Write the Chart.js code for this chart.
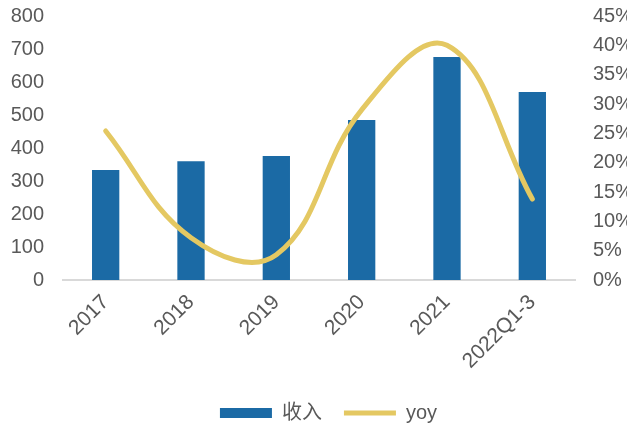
<!DOCTYPE html>
<html>
<head>
<meta charset="utf-8">
<script src="https://cdn.jsdelivr.net/npm/chart.js@4"></script>
<style>
  html, body { margin: 0; padding: 0; background: #fff; overflow: hidden; }
</style>
</head>
<body>
<canvas id="chart" width="627" height="427"></canvas>
<script>
const categories = ['2017', '2018', '2019', '2020', '2021', '2022Q1-3'];
const revenue = [333, 360, 376, 485, 676, 570];
const yoy = [25.4, 7.2, 4.3, 29.0, 40.0, 13.8];
const leftTicks = [0, 100, 200, 300, 400, 500, 600, 700, 800];
const rightTicks = [0, 5, 10, 15, 20, 25, 30, 35, 40, 45];

const tickColor = '#595959';
const tickFont = { family: 'Liberation Sans, Arial, sans-serif', size: 20 };

// move the legend row a little right and down from where the layout puts it
const legendShift = {
    id: 'legendShift',
    afterLayout(chart) {
        const lg = chart.legend;
        lg.left += 15;
        lg.right += 15;
        lg.top += 6;
        lg.bottom += 6;
    }
};

// fixed axis sizes, no extra padding from the tick labels
function fixSize(w, h) {
    return s => {
        if (w != null) s.width = w;
        if (h != null) s.height = h;
        s.paddingTop = 0;
        s.paddingBottom = 0;
        s.paddingLeft = 0;
        s.paddingRight = 0;
    };
}

new Chart(document.getElementById('chart').getContext('2d'), {
    data: {
        labels: categories,
        datasets: [
            {
                type: 'line',
                label: 'yoy',
                data: yoy,
                yAxisID: 'y1',
                borderColor: '#E4C862',
                backgroundColor: '#E4C862',
                borderWidth: 5,
                borderCapStyle: 'round',
                pointRadius: 0,
                tension: 0.4,
                order: 0
            },
            {
                type: 'bar',
                label: '收入',
                data: revenue,
                yAxisID: 'y',
                backgroundColor: '#1B6AA5',
                borderWidth: 0,
                categoryPercentage: 1,
                barPercentage: 0.32,
                order: 1
            }
        ]
    },
    options: {
        responsive: false,
        animation: false,
        layout: { padding: { top: 16, left: 0, right: 0, bottom: 0 } },
        plugins: {
            tooltip: { enabled: false },
            legend: {
                position: 'bottom',
                reverse: true,
                labels: {
                    usePointStyle: true,
                    pointStyleWidth: 52,
                    boxHeight: 10,
                    padding: 22,
                    color: tickColor,
                    font: { family: 'Liberation Sans, "Noto Sans CJK SC", sans-serif', size: 20 },
                    generateLabels(chart) {
                        const items = Chart.defaults.plugins.legend.labels.generateLabels(chart);
                        items.forEach(it => {
                            const ds = chart.data.datasets[it.datasetIndex];
                            it.pointStyle = ds.type === 'line' ? 'line' : 'rect';
                            if (ds.type === 'bar') it.lineWidth = 0;
                        });
                        return items;
                    }
                }
            }
        },
        scales: {
            x: {
                grid: { display: false, drawTicks: false },
                border: { color: '#D9D9D9', width: 2 },
                ticks: {
                    color: tickColor,
                    font: { family: tickFont.family, size: 21 },
                    minRotation: 45,
                    maxRotation: 45,
                    padding: 10
                },
                afterFit: fixSize(null, 95)
            },
            y: {
                position: 'left',
                min: 0,
                max: 800,
                grid: { display: false, drawTicks: false },
                border: { display: false },
                afterBuildTicks(scale) { scale.ticks = leftTicks.map(v => ({ value: v })); },
                ticks: { color: tickColor, font: tickFont, padding: 19 },
                afterFit: fixSize(63, null)
            },
            y1: {
                position: 'right',
                min: 0,
                max: 45,
                grid: { display: false, drawTicks: false },
                border: { display: false },
                afterBuildTicks(scale) { scale.ticks = rightTicks.map(v => ({ value: v })); },
                ticks: {
                    color: tickColor,
                    font: tickFont,
                    padding: 18,
                    callback: v => v + '%'
                },
                afterFit: fixSize(52, null)
            }
        }
    },
    plugins: [legendShift]
});
</script>
</body>
</html>
